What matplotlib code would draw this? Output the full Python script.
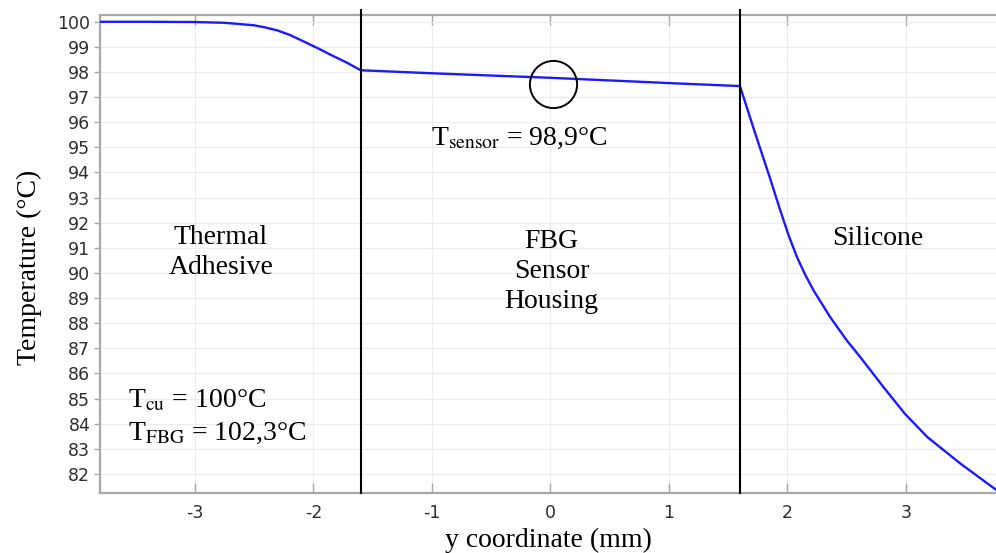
import matplotlib
matplotlib.use("Agg")
import matplotlib.pyplot as plt
import numpy as np

# ---- data ----
x_adhesive = [-3.8, -3.4, -3.0, -2.75, -2.5, -2.4, -2.3, -2.2, -2.11, -1.95, -1.86, -1.72, -1.6]
t_adhesive = [100.0, 100.0, 99.99, 99.96, 99.86, 99.77, 99.65, 99.48, 99.28, 98.92, 98.70, 98.38, 98.07]

x_housing = [-1.6, -1.0, 0.0, 1.0, 1.6]
t_housing = [98.07, 97.95, 97.77, 97.56, 97.44]

x_silicone = [1.6, 1.71, 1.85, 1.94, 2.01, 2.08, 2.15, 2.22, 2.36, 2.50, 2.61, 2.81, 2.99, 3.18, 3.46, 3.76]
t_silicone = [97.44, 95.82, 93.82, 92.49, 91.50, 90.64, 89.93, 89.31, 88.25, 87.32, 86.68, 85.46, 84.40, 83.47, 82.41, 81.37]

boundaries = [-1.6, 1.6]
sensor_pos = (0.02, 97.52)

x_ticks = [-3, -2, -1, 0, 1, 2, 3]
y_ticks = list(range(82, 101))

x_all = x_adhesive + x_housing[1:] + x_silicone[1:]
t_all = t_adhesive + t_housing[1:] + t_silicone[1:]

plt.rcParams['mathtext.fontset'] = 'stix'
serif = ['Liberation Serif', 'DejaVu Serif']

fig = plt.figure(figsize=(9.96, 5.53), dpi=100)
ax = fig.add_axes([100/996, 1 - 493/553, 896/996, (493 - 15)/553])

ax.set_xlim(-3.8, 3.76)
ax.set_ylim(81.24, 100.27)

ax.set_xticks(x_ticks)
ax.set_yticks(y_ticks)
ax.set_xticklabels([str(v) for v in x_ticks])
ax.set_yticklabels([str(v) for v in y_ticks])

ax.grid(True, color='#ececec', linewidth=0.9)
ax.set_axisbelow(True)

for s in ['left', 'bottom', 'top']:
    ax.spines[s].set_color('#a8a8a8')
    ax.spines[s].set_linewidth(1.6)
ax.spines['right'].set_visible(False)

ax.tick_params(axis='x', direction='in', length=7, width=1, color='#a8a8a8',
               labelsize=12.5, labelcolor='#2e2e2e', pad=8, top=True)
ax.tick_params(axis='y', direction='out', length=4, width=1, color='#a8a8a8',
               labelsize=12.5, labelcolor='#2e2e2e', pad=3)

ax.plot(x_all, t_all, color='#1a1aff', linewidth=1.7, zorder=3)

for b in boundaries:
    ax.axvline(b, ymin=0, ymax=1.011, color='black', linewidth=1.5, clip_on=False, zorder=4)

ax.plot([sensor_pos[0]], [sensor_pos[1]], marker='o', markersize=34, markerfacecolor='none',
        markeredgecolor='black', markeredgewidth=1.4, zorder=5)

fs = 20
ax.text(-2.78, 90.8, 'Thermal\nAdhesive', ha='center', va='center', fontsize=fs,
        family=serif, linespacing=1.25)
ax.text(0.01, 90.05, 'FBG\nSensor\nHousing', ha='center', va='center', fontsize=fs,
        family=serif, linespacing=1.25)
ax.text(2.76, 91.1, 'Silicone', ha='center', va='baseline', fontsize=fs, family=serif)

ax.text(-0.26, 95.09, r'T$_{\mathrm{sensor}}$ = 98,9°C', ha='center', va='baseline',
        fontsize=fs, family=serif)
ax.text(-3.565, 84.65, r'T$_{\mathrm{cu}}$ = 100°C', ha='left', va='baseline',
        fontsize=fs, family=serif)
ax.text(-3.565, 83.34, r'T$_{\mathrm{FBG}}$ = 102,3°C', ha='left', va='baseline',
        fontsize=fs, family=serif)

ax.set_xlabel('y coordinate (mm)', fontsize=20, family=serif, labelpad=4)
ax.set_ylabel('Temperature (°C)', fontsize=20, family=serif)
ax.yaxis.set_label_coords(-0.0647, 0.473)

fig.savefig('out.png', dpi=100)
